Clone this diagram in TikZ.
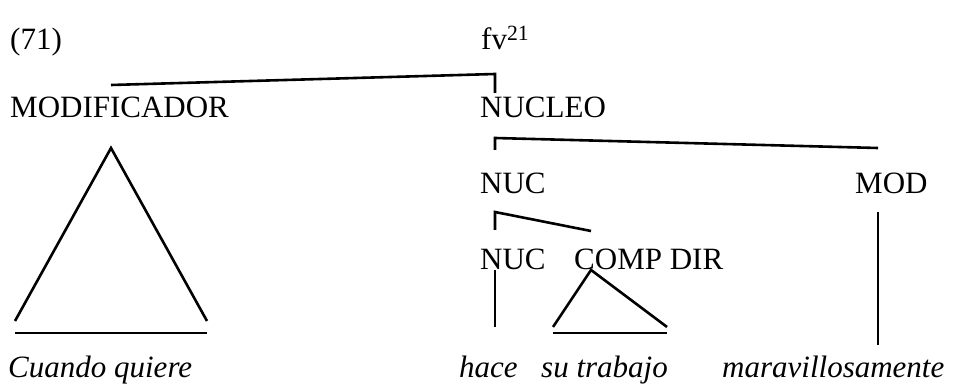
\documentclass[tikz,border=0pt]{standalone}
\usepackage{fontspec}
\setmainfont{Liberation Serif}
\begin{document}
\begin{tikzpicture}[x=1pt,y=-1pt,
  lbl/.style={anchor=base west,inner sep=0pt,font=\fontsize{31}{37}\selectfont},
  wrd/.style={lbl,font=\fontsize{31}{37}\selectfont\itshape},
  br/.style={line width=2.6pt,line cap=butt,line join=miter}]
\useasboundingbox (0,0) rectangle (954,387);
% labels
\node[lbl] (n71) at (10,50) {(71)};
\node[lbl] (fv) at (481,50) {fv\textsuperscript{21}};
\node[lbl] (modif) at (10,118) {MODIFICADOR};
\node[lbl] (nucleo) at (480,118) {NUCLEO};
\node[lbl] (nuca) at (480,194) {NUC};
\node[lbl] (mod) at (855,194) {MOD};
\node[lbl] (nucb) at (480,270) {NUC};
\node[lbl] (comp) at (574,270) {COMP DIR};
\node[wrd] (cuando) at (8,378) {Cuando quiere};
\node[wrd] (hace) at (459,378) {hace};
\node[wrd] (sutrab) at (541,378) {su trabajo};
\node[wrd] (marav) at (722,378) {maravillosamente};
% branch points
\coordinate (a1) at (111,85);
\coordinate (a2) at (495,74);
\coordinate (a3) at (495,93);
\coordinate (b1) at (495,138);
\coordinate (b2) at (495,150);
\coordinate (b3) at (878,148);
\coordinate (c1) at (495,212);
\coordinate (c2) at (495,230);
\coordinate (c3) at (591,231);
\coordinate (d1) at (495,270);
\coordinate (d2) at (495,327);
\coordinate (t1) at (591,270);
\coordinate (t2) at (553,327);
\coordinate (t3) at (667,327);
\coordinate (t4) at (553,333);
\coordinate (t5) at (667,333);
\coordinate (m1) at (878,212);
\coordinate (m2) at (878,345);
\coordinate (T1) at (111,148);
\coordinate (T2) at (15,321);
\coordinate (T3) at (207,321);
\coordinate (T4) at (15,333);
\coordinate (T5) at (207,333);
% connectors
\draw[br] (a1) -- (a2) -- (a3);
\draw[br] (b2) -- (b1) -- (b3);
\draw[br] (c2) -- (c1) -- (c3);
\draw[br] (d1) -- (d2);
\draw[br] (t2) -- (t1) -- (t3);
\draw[br] (t4) -- (t5);
\draw[br] (m1) -- (m2);
\draw[br] (T2) -- (T1) -- (T3);
\draw[br] (T4) -- (T5);
\end{tikzpicture}
\end{document}
